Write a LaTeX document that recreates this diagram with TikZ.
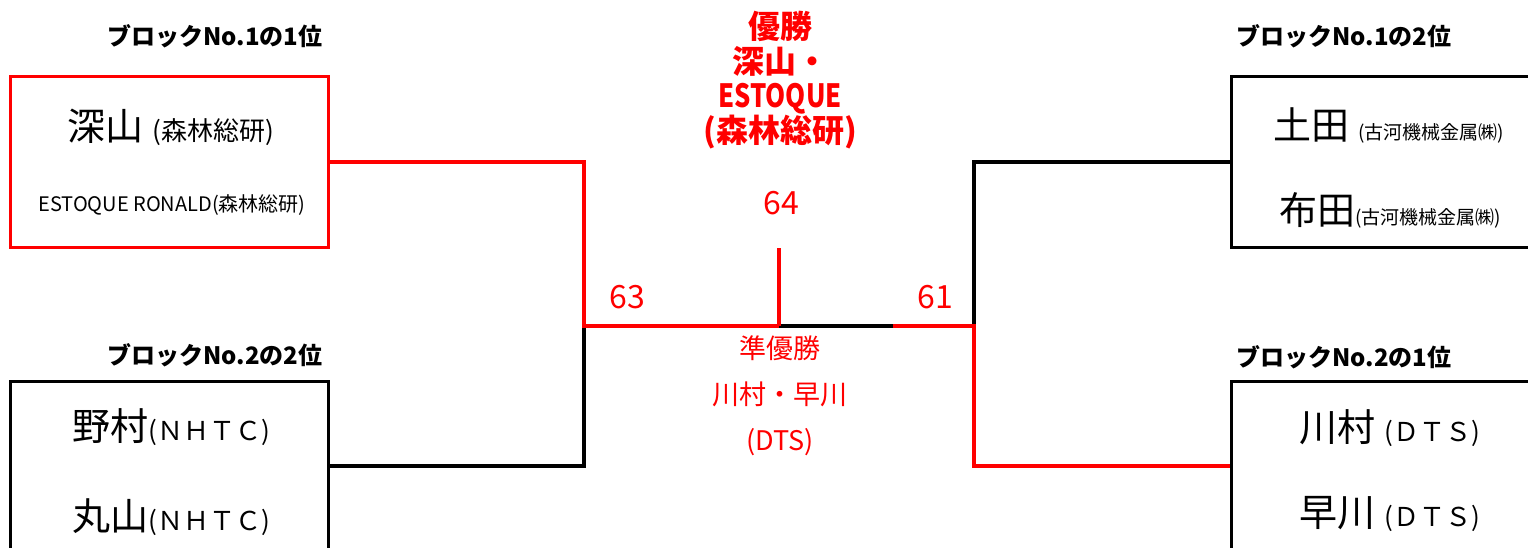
\documentclass[tikz,border=0pt]{standalone}
\usepackage{fontspec}
\setmainfont{Noto Sans CJK JP}
\usepackage{graphicx}
\usetikzlibrary{positioning}

\tikzset{
 entry/.style={draw, line width=3pt, minimum width=318pt, minimum height=170pt, inner sep=0pt},
 redline/.style={draw=red, line width=4pt},
 blackline/.style={draw=black, line width=4pt},
 blocklabel/.style={font=\bfseries\fontsize{24}{28}\selectfont},
 bigname/.style={font=\fontsize{38}{40}\selectfont},
 score/.style={text=red, font=\fontsize{32}{36}\selectfont},
}
\newcommand{\smalltxt}[1]{{\fontsize{26}{30}\selectfont #1}}
\newcommand{\tinytxt}[1]{{\fontsize{19}{22}\selectfont #1}}

\begin{document}
\begin{tikzpicture}[x=1pt,y=-1pt]
 \useasboundingbox (0,0) rectangle (1528,548);
 \clip (0,0) rectangle (1528,548);

 % entry boxes
 \node[entry, draw=red] (firstA) at (169,162) {}; % Block 1, 1st
 \node[entry] (secondB) at (169,466) {}; % Block 2, 2nd
 \node[entry] (secondA) at (1390,162) {}; % Block 1, 2nd
 \node[entry] (firstB) at (1390,466) {}; % Block 2, 1st

 \node[blocklabel] (lblfirstA) at (215,36) {ブロックNo.1の1位};
 \node[blocklabel] (lblsecondB) at (215,355) {ブロックNo.2の2位};
 \node[blocklabel] (lblsecondA) at (1344,36) {ブロックNo.1の2位};
 \node[blocklabel] (lblfirstB) at (1344,357) {ブロックNo.2の1位};

 \node[bigname] (pfirstA1) at (171,127) {深山 \smalltxt{(森林総研)}};
 \node[font=\fontsize{20}{24}\selectfont] (pfirstA2) at (172,205) {ESTOQUE RONALD(森林総研)};
 \node[bigname] (psecondB1) at (171,427) {野村\smalltxt{(ＮＨＴＣ)}};
 \node[bigname] (psecondB2) at (171,517) {丸山\smalltxt{(ＮＨＴＣ)}};
 \node[bigname] (psecondA1) at (1389,125) {土田 \tinytxt{(古河機械金属㈱)}};
 \node[bigname] (psecondA2) at (1390,210) {布田\tinytxt{(古河機械金属㈱)}};
 \node[bigname] (pfirstB1) at (1390,428) {川村 \smalltxt{(ＤＴＳ)}};
 \node[bigname] (pfirstB2) at (1390,514) {早川 \smalltxt{(ＤＴＳ)}};

 % bracket
 \coordinate (semiL) at (584,326);
 \coordinate (semiR) at (974,326);
 \coordinate (final) at (779,326);
 \coordinate (finaltop) at (779,248);
 \coordinate (finalR) at (893,326);

 \draw[blackline] (secondB.east) -| (semiL);
 \draw[blackline] (secondA.west) -| (semiR);
 \draw[blackline] (final) -- (finalR);
 \draw[redline] (firstA.east) -| (semiL) -- (final);
 \draw[redline] (finaltop) -- (final);
 \draw[redline] (finalR) -- (semiR) |- (firstB.west);

 \node[score] (s64) at (781,203) {64};
 \node[score] (s63) at (627,297) {63};
 \node[score] (s61) at (935,297) {61};

 \node[anchor=north, inner sep=0pt, align=center, text=red, font=\bfseries\fontsize{32}{34.5}\selectfont] (champ) at (780,11)
  {優勝\\深山・\\\scalebox{0.8}[1]{ESTOQUE}\\(森林総研)};
 \node[align=center, text=red, font=\fontsize{27}{46}\selectfont] (runnerup) at (780,396)
  {準優勝\\川村・早川\\(DTS)};

\end{tikzpicture}
\end{document}
